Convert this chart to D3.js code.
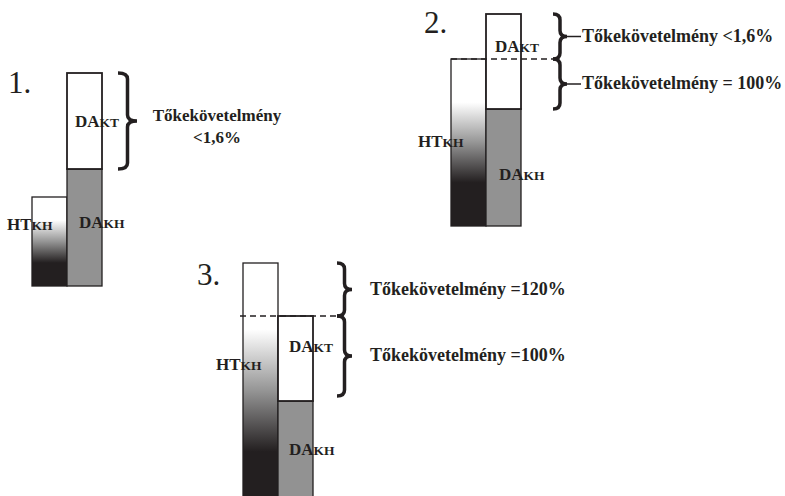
<!DOCTYPE html>
<html>
<head>
<meta charset="utf-8">
<script src="https://cdn.jsdelivr.net/npm/d3@7"></script>
<style>
  body { margin: 0; background: #fff; }
  svg { display: block; }
</style>
</head>
<body>
<div id="chart"></div>
<script>
// values per scenario (same arbitrary height units for all three)
const scenarios = ["1.", "2.", "3."];
const htKH = [89, 167, 255];
const daKH = [117, 117, 117];
const daKT = [96, 95, 85];
const upperLabels = [["Tőkekövetelmény", "<1,6%"], ["Tőkekövetelmény <1,6%"], ["Tőkekövetelmény =120%"]];
const lowerLabels = [null, ["Tőkekövetelmény = 100%"], ["Tőkekövetelmény =100%"]];

const width = 785, height = 496;
const ink = "#231f20";
const grey = "#929292";
const serif = "'Liberation Serif', 'DejaVu Serif', serif";
const barW = 35;

// where each scenario sits on the page
const layout = [
  { x: 32, base: 286, numX: 8, numY: 93, braceX: 118, braceW: 19, textX: 217, textSize: 17, tail: false },
  { x: 451, base: 226, numX: 424, numY: 33, braceX: 553, braceW: 14, textX: 582, textSize: 18, tail: true },
  { x: 243, base: 518, numX: 197, numY: 285, braceX: 337, braceW: 15, textX: 370, textSize: 18, tail: false }
];

const y = d3.scaleLinear().domain([0, 300]).range([0, 300]);

const svg = d3.select("#chart").append("svg")
  .attr("width", width)
  .attr("height", height);

svg.append("rect").attr("width", width).attr("height", height).attr("fill", "#fff");

const defs = svg.append("defs");
const grad = defs.append("linearGradient")
  .attr("id", "htFade")
  .attr("x1", 0).attr("y1", 0).attr("x2", 0).attr("y2", 1);
[[0, "#ffffff"], [0.26, "#ffffff"], [0.5, "#959595"], [0.74, ink], [1, ink]].forEach(s => {
  grad.append("stop").attr("offset", s[0]).attr("stop-color", s[1]);
});

function bracePath(x0, y1, y2, w) {
  const xm = x0 + w / 2, mid = (y1 + y2) / 2, r = Math.min(6, (y2 - y1) / 6);
  return `M${x0},${y1} Q${xm},${y1} ${xm},${y1 + r} L${xm},${mid - r} Q${xm},${mid} ${x0 + w},${mid}` +
         ` Q${xm},${mid} ${xm},${mid + r} L${xm},${y2 - r} Q${xm},${y2} ${x0},${y2}`;
}

function label(g, x, yy, big, small) {
  const t = g.append("text")
    .attr("x", x).attr("y", yy)
    .attr("font-family", serif)
    .attr("font-weight", "bold")
    .attr("fill", ink);
  t.append("tspan").attr("font-size", 17).text(big);
  t.append("tspan").attr("font-size", 13.5).text(small);
}

function note(g, x, yy, lines, size, anchor) {
  lines.forEach((s, i) => {
    g.append("text")
      .attr("x", x).attr("y", yy + i * 22)
      .attr("text-anchor", anchor)
      .attr("font-family", serif)
      .attr("font-weight", "bold")
      .attr("font-size", size)
      .attr("fill", ink)
      .text(s);
  });
}

scenarios.forEach((name, i) => {
  const L = layout[i];
  const g = svg.append("g");
  const xHT = L.x, xDA = L.x + barW;
  const htTop = L.base - y(htKH[i]);
  const khTop = L.base - y(daKH[i]);
  const ktTop = khTop - y(daKT[i]);

  g.append("text")
    .attr("x", L.numX).attr("y", L.numY)
    .attr("font-family", serif).attr("font-size", 31).attr("fill", ink)
    .text(name);

  // HT bar with fading fill
  g.append("rect")
    .attr("x", xHT).attr("y", htTop)
    .attr("width", barW).attr("height", y(htKH[i]))
    .attr("fill", "url(#htFade)")
    .attr("stroke", ink).attr("stroke-width", 1.3);

  // DA stack
  g.append("rect")
    .attr("x", xDA).attr("y", khTop)
    .attr("width", barW).attr("height", y(daKH[i]))
    .attr("fill", grey)
    .attr("stroke", ink).attr("stroke-width", 1.3);
  g.append("rect")
    .attr("x", xDA).attr("y", ktTop)
    .attr("width", barW).attr("height", y(daKT[i]))
    .attr("fill", "#fff")
    .attr("stroke", ink).attr("stroke-width", 1.8);

  // labels
  if (i === 0) {
    label(g, 7, 230, "HT", "KH");
    label(g, 79, 228, "DA", "KH");
    label(g, 75, 127, "DA", "KT");
  } else if (i === 1) {
    label(g, 418, 147, "HT", "KH");
    label(g, 499, 180, "DA", "KH");
    label(g, 495, 52, "DA", "KT");
  } else {
    label(g, 216, 370, "HT", "KH");
    label(g, 289, 455, "DA", "KH");
    label(g, 289, 352, "DA", "KT");
  }

  const bw = 3.5;
  if (i === 0) {
    g.append("path")
      .attr("d", bracePath(L.braceX, ktTop, khTop, L.braceW))
      .attr("fill", "none").attr("stroke", ink).attr("stroke-width", bw);
    note(g, L.textX, 121, upperLabels[i], L.textSize, "middle");
  } else {
    // dashed line at the level that splits the two braces
    const split = i === 1 ? htTop : ktTop;
    const top = i === 1 ? ktTop : htTop;
    const bottom = i === 1 ? khTop : khTop - 5;
    g.append("line")
      .attr("x1", i === 1 ? xHT : xHT - 3).attr("x2", L.braceX + 5)
      .attr("y1", split).attr("y2", split)
      .attr("stroke", ink).attr("stroke-width", 1.5)
      .attr("stroke-dasharray", "6,4");
    g.append("path")
      .attr("d", bracePath(L.braceX, top, split, L.braceW))
      .attr("fill", "none").attr("stroke", ink).attr("stroke-width", bw);
    g.append("path")
      .attr("d", bracePath(L.braceX, split, bottom, L.braceW))
      .attr("fill", "none").attr("stroke", ink).attr("stroke-width", bw);
    if (L.tail) {
      [(top + split) / 2, (split + bottom) / 2].forEach(m => {
        g.append("line")
          .attr("x1", L.braceX + L.braceW).attr("x2", L.textX - 1)
          .attr("y1", m).attr("y2", m)
          .attr("stroke", ink).attr("stroke-width", 1.5);
      });
    }
    note(g, L.textX, (top + split) / 2 + 5, upperLabels[i], L.textSize, "start");
    note(g, L.textX, (split + bottom) / 2 + 5, lowerLabels[i], L.textSize, "start");
  }
});
</script>
</body>
</html>
